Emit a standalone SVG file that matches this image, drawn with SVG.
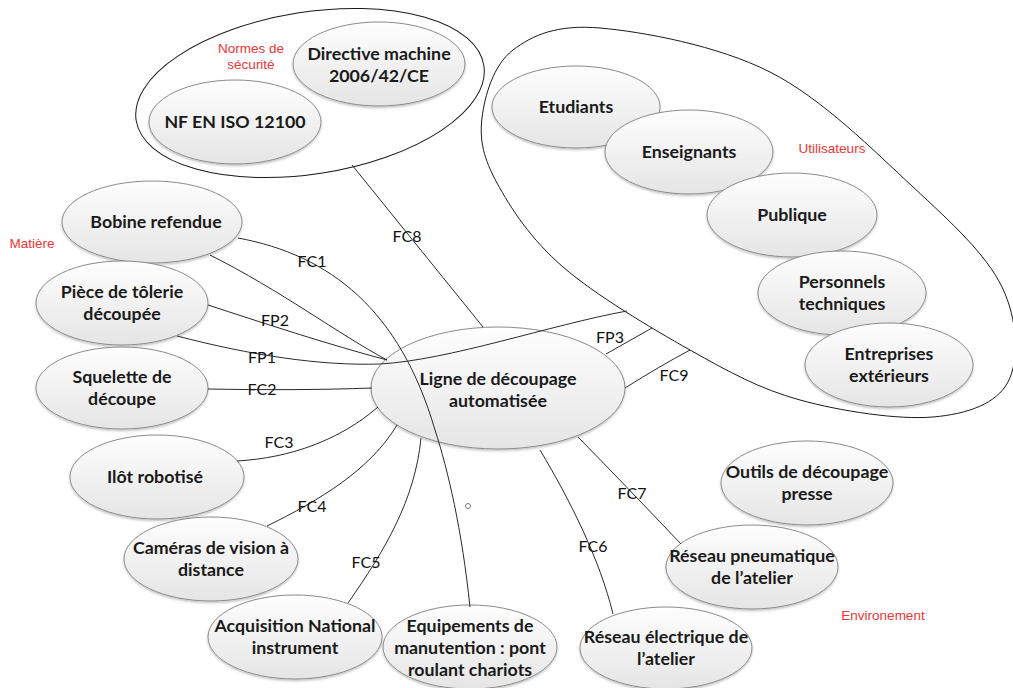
<svg xmlns="http://www.w3.org/2000/svg" width="1013" height="688" viewBox="0 0 1013 688">
<defs>
<linearGradient id="g" x1="0" y1="0" x2="0" y2="1">
<stop offset="0" stop-color="#fefefe"/>
<stop offset="1" stop-color="#e5e5e5"/>
</linearGradient>
<filter id="sh" x="-10%" y="-10%" width="120%" height="130%">
<feDropShadow dx="0" dy="1.5" stdDeviation="1" flood-color="#000" flood-opacity="0.25"/>
</filter>
<style>
.grp{fill:none;stroke:#1a1a1a;stroke-width:1}
.nd{fill:url(#g);stroke:#8c8c8c;stroke-width:1;filter:url(#sh)}
.t{font-family:Lato,"Open Sans",sans-serif;font-weight:bold;font-size:17.8px;fill:#1a1a1a;text-anchor:middle}
.red{font-family:"Liberation Sans",Arial,sans-serif;font-size:13.5px;fill:#ee3535;text-anchor:middle}
.c{fill:none;stroke:#2a2a2a;stroke-width:1}
.lb{font-family:Lato,"Open Sans",sans-serif;font-size:16px;fill:#111;text-anchor:middle}
</style>
</defs>
<rect width="1013" height="688" fill="#fff"/>

<g id="normes-group">
<ellipse class="grp" cx="310" cy="93" rx="176" ry="81" transform="rotate(-9 310 93)"/>
<text class="red" x="251" y="53">Normes de</text>
<text class="red" x="251" y="69">sécurité</text>
</g>
<g id="utilisateurs-group">
<path class="grp" d="M482,118 C484.7,95.8 493.3,65 513,50 C532.7,35 557.2,24.3 600,28 C642.8,31.7 717.8,45.5 770,72 C822.2,98.5 874.3,151.2 913,187 C951.7,222.8 986.2,254.5 1002,287 C1017.8,319.5 1019.5,360.3 1008,382 C996.5,403.7 967.7,414 933,417 C898.3,420 840.5,411.2 800,400 C759.5,388.8 729.5,372.2 690,350 C650.5,327.8 595.2,294.8 563,267 C530.8,239.2 510.5,207.8 497,183 C483.5,158.2 479.3,140.2 482,118 Z"/>
<text class="red" x="832" y="153">Utilisateurs</text>
</g>
<g id="labels-cat">
<text class="red" x="32" y="248">Matière</text>
<text class="red" x="883" y="620">Environement</text>
</g>

<g id="n-directive"><ellipse class="nd" cx="379" cy="64" rx="86" ry="42"/><text class="t" x="379" y="60">Directive machine</text><text class="t" x="379" y="82">2006/42/CE</text></g>
<g id="n-nfen"><ellipse class="nd" cx="235" cy="122" rx="86" ry="42"/><text class="t" x="235" y="128">NF EN ISO 12100</text></g>

<g id="n-etudiants"><ellipse class="nd" cx="576" cy="107" rx="84" ry="41"/><text class="t" x="576" y="113">Etudiants</text></g>
<g id="n-enseignants"><ellipse class="nd" cx="689" cy="152" rx="84" ry="42"/><text class="t" x="689" y="158">Enseignants</text></g>
<g id="n-publique"><ellipse class="nd" cx="792" cy="215" rx="85" ry="42"/><text class="t" x="792" y="221">Publique</text></g>
<g id="n-personnels"><ellipse class="nd" cx="842" cy="293" rx="84" ry="42"/><text class="t" x="842" y="288">Personnels</text><text class="t" x="842" y="310">techniques</text></g>
<g id="n-entreprises"><ellipse class="nd" cx="889" cy="365" rx="84" ry="42"/><text class="t" x="889" y="360">Entreprises</text><text class="t" x="889" y="382">extérieurs</text></g>

<g id="n-bobine"><ellipse class="nd" cx="152" cy="222" rx="90" ry="41"/><text class="t" x="156" y="228">Bobine refendue</text></g>
<g id="n-piece"><ellipse class="nd" cx="122" cy="303" rx="86" ry="42"/><text class="t" x="122" y="298">Pièce de tôlerie</text><text class="t" x="122" y="320">découpée</text></g>
<g id="n-squelette"><ellipse class="nd" cx="122" cy="388" rx="86" ry="41"/><text class="t" x="122" y="383">Squelette de</text><text class="t" x="122" y="405">découpe</text></g>
<g id="n-ilot"><ellipse class="nd" cx="157" cy="477" rx="87" ry="42"/><text class="t" x="155" y="483">Ilôt robotisé</text></g>
<g id="n-cameras"><ellipse class="nd" cx="211" cy="559" rx="87" ry="42"/><text class="t" x="211" y="554">Caméras de vision à</text><text class="t" x="211" y="576">distance</text></g>
<g id="n-acquisition"><ellipse class="nd" cx="295" cy="637" rx="87" ry="42"/><text class="t" x="295" y="632">Acquisition National</text><text class="t" x="295" y="654">instrument</text></g>
<g id="n-equipements"><ellipse class="nd" cx="470" cy="647" rx="87" ry="42"/><text class="t" x="470" y="632">Equipements de</text><text class="t" x="470" y="654">manutention : pont</text><text class="t" x="470" y="676">roulant chariots</text></g>
<g id="n-electrique"><ellipse class="nd" cx="666" cy="648" rx="86" ry="41"/><text class="t" x="666" y="643">Réseau électrique de</text><text class="t" x="666" y="665">l’atelier</text></g>
<g id="n-pneumatique"><ellipse class="nd" cx="752" cy="567" rx="86" ry="42"/><text class="t" x="752" y="562">Réseau pneumatique</text><text class="t" x="752" y="584">de l’atelier</text></g>
<g id="n-outils"><ellipse class="nd" cx="807" cy="483" rx="86" ry="42"/><text class="t" x="807" y="478">Outils de découpage</text><text class="t" x="807" y="500">presse</text></g>

<g id="n-central"><ellipse class="nd" cx="498" cy="388" rx="127" ry="61"/><text class="t" x="498" y="385">Ligne de découpage</text><text class="t" x="498" y="407">automatisée</text></g>

<g id="connectors">
<path class="c" d="M352,165 L483,327"/>
<path class="c" d="M238,238 C330,255 400,310 435,430 C448,470 462,530 470,607"/>
<path class="c" d="M210,255 C280,290 340,335 387,360"/>
<path class="c" d="M208,305 C260,322 330,345 387,360"/>
<path class="c" d="M177,336 C250,355 320,366 380,364 C450,360 550,325 627,311"/>
<path class="c" d="M606,354 L652,328"/>
<path class="c" d="M625,388 Q660,366 690,350"/>
<path class="c" d="M208,389 C260,390 320,390 372,388"/>
<path class="c" d="M237,461 C290,458 340,440 378,407"/>
<path class="c" d="M267,526 C320,500 370,470 397,425"/>
<path class="c" d="M348,603 C385,550 415,500 421,438"/>
<path class="c" d="M540,450 C570,500 600,560 613,614"/>
<path class="c" d="M578,437 Q625,485 681,544"/>
<circle cx="468" cy="506" r="2.5" fill="none" stroke="#777" stroke-width="1"/>
<text class="lb" x="407" y="242">FC8</text>
<text class="lb" x="312" y="267">FC1</text>
<text class="lb" x="275" y="326">FP2</text>
<text class="lb" x="262" y="363">FP1</text>
<text class="lb" x="262" y="395">FC2</text>
<text class="lb" x="279" y="448">FC3</text>
<text class="lb" x="312" y="512">FC4</text>
<text class="lb" x="366" y="568">FC5</text>
<text class="lb" x="593" y="552">FC6</text>
<text class="lb" x="632" y="499">FC7</text>
<text class="lb" x="610" y="343">FP3</text>
<text class="lb" x="674" y="381">FC9</text>
</g>
</svg>
